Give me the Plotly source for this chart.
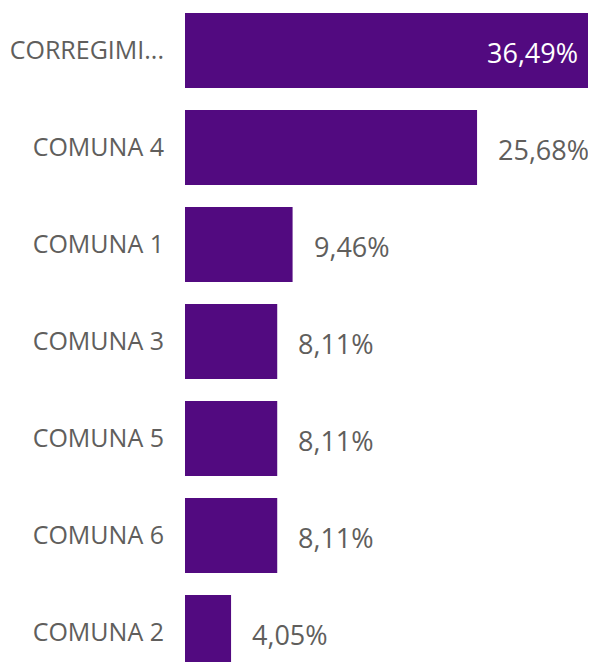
import plotly.graph_objects as go

categories = ["CORREGIMI...", "COMUNA 4", "COMUNA 1", "COMUNA 3", "COMUNA 5", "COMUNA 6", "COMUNA 2"]
values = [36.49, 25.68, 9.46, 8.11, 8.11, 8.11, 4.05]
labels = ["36,49%", "25,68%", "9,46%", "8,11%", "8,11%", "8,11%", "4,05%"]

BAR_COLOR = "#520A80"
LABEL_COLOR = "#605E5C"
FONT = "Open Sans, Noto Sans, sans-serif"

fig = go.Figure(go.Bar(
    x=values, y=categories, orientation="h",
    marker=dict(color=BAR_COLOR, line=dict(width=0)),
    hoverinfo="skip",
))

vmax = max(values)
xmax = vmax * 411 / 415

annotations = []
for i, (v, lab) in enumerate(zip(values, labels)):
    if v > xmax * 0.9:
        annotations.append(dict(x=xmax, y=categories[i], text=lab, showarrow=False,
                                xanchor="right", xshift=-16, yshift=-2,
                                font=dict(family=FONT, size=27, color="white")))
    else:
        annotations.append(dict(x=v, y=categories[i], text=lab, showarrow=False,
                                xanchor="left", xshift=19, yshift=-2,
                                font=dict(family=FONT, size=27, color=LABEL_COLOR)))

fig.update_layout(
    width=588, height=654,
    margin=dict(l=177, r=0, t=0, b=0),
    paper_bgcolor="white", plot_bgcolor="white",
    bargap=0.227,
    showlegend=False,
    annotations=annotations,
    xaxis=dict(range=[0, xmax], visible=False, fixedrange=True),
    yaxis=dict(range=[6.304, -0.438], showgrid=False, zeroline=False, showline=False,
               ticks="", ticklabelstandoff=20, automargin=False,
               tickfont=dict(family=FONT, size=25, color=LABEL_COLOR)),
)

fig.write_html("out.html")
